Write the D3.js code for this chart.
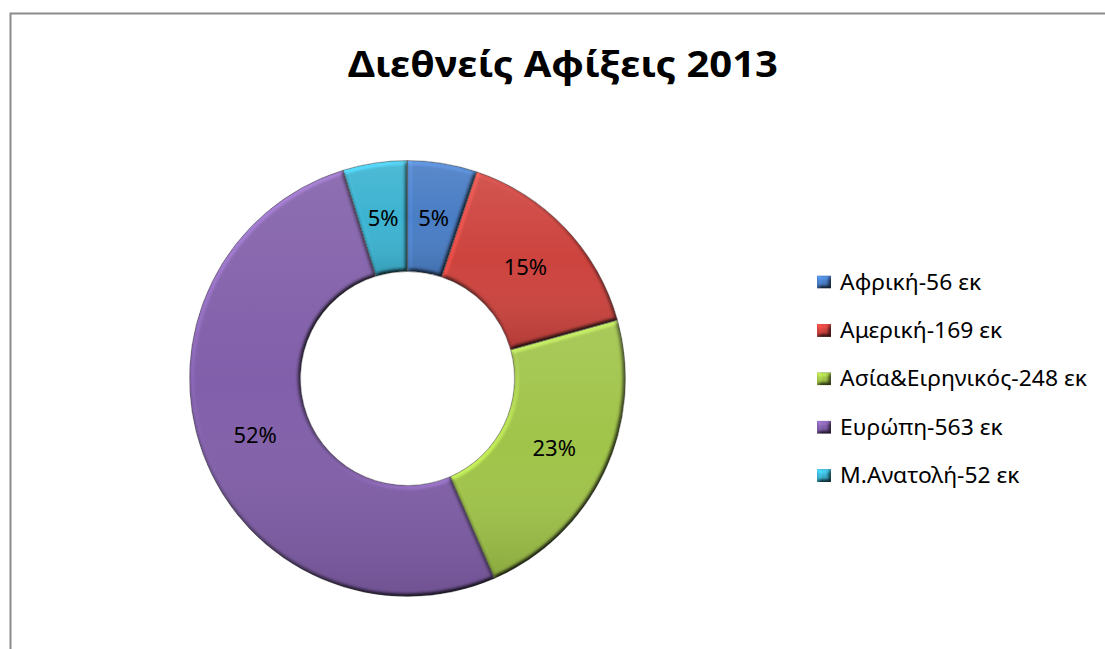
<!DOCTYPE html>
<html>
<head>
<meta charset="utf-8">
<script src="https://cdn.jsdelivr.net/npm/d3@7"></script>
<style>
  html, body { margin: 0; padding: 0; background: #fff; }
  svg { display: block; }
  text { font-family: "Noto Sans", "Open Sans", sans-serif; fill: #000; }
</style>
</head>
<body>
<svg id="chart" width="1105" height="649"></svg>
<script>
// International arrivals 2013 by region (millions, "εκ")
const regions = ["Αφρική", "Αμερική", "Ασία&Ειρηνικός", "Ευρώπη", "Μ.Ανατολή"];
const arrivals = [56, 169, 248, 563, 52];
const shareLabels = ["5%", "15%", "23%", "52%", "5%"];
const sliceColors = ["#4a7fc8", "#d0443f", "#a3c74a", "#8461ad", "#3db6d5"];
const chartTitle = "Διεθνείς Αφίξεις 2013";
const unit = "εκ";

const W = 1105, H = 649;
const svg = d3.select("#chart");

// frame around the chart area
svg.append("path")
  .attr("d", `M10.5,${H} V13.5 H${W}`)
  .attr("fill", "none")
  .attr("stroke", "#8c8c8c")
  .attr("stroke-width", 2);

// title
svg.append("text")
  .attr("x", 563)
  .attr("y", 77)
  .attr("text-anchor", "middle")
  .attr("font-size", 36)
  .attr("font-weight", "bold")
  .attr("textLength", 430)
  .attr("lengthAdjust", "spacingAndGlyphs")
  .text(chartTitle);

const defs = svg.append("defs");

// bevel shading for slices and legend keys
const bevel = defs.append("filter")
  .attr("id", "bevel")
  .attr("x", "-5%").attr("y", "-5%").attr("width", "110%").attr("height", "110%")
  .attr("color-interpolation-filters", "sRGB");
bevel.append("feGaussianBlur").attr("in", "SourceAlpha").attr("stdDeviation", 2.2).attr("result", "blur");
const diff = bevel.append("feDiffuseLighting")
  .attr("in", "blur").attr("surfaceScale", 3).attr("diffuseConstant", 1)
  .attr("lighting-color", "#fff").attr("result", "light");
diff.append("feDistantLight").attr("azimuth", 235).attr("elevation", 55);
bevel.append("feComposite")
  .attr("in", "SourceGraphic").attr("in2", "light")
  .attr("operator", "arithmetic")
  .attr("k1", 1.2).attr("k2", 0).attr("k3", 0).attr("k4", 0)
  .attr("result", "lit");
bevel.append("feComposite").attr("in", "lit").attr("in2", "SourceAlpha").attr("operator", "in");

// gentle vertical shading over the ring
const shade = defs.append("linearGradient")
  .attr("id", "ringShade")
  .attr("x1", 0).attr("y1", 0).attr("x2", 0).attr("y2", 1);
shade.append("stop").attr("offset", "0%").attr("stop-color", "#fff").attr("stop-opacity", 0.10);
shade.append("stop").attr("offset", "50%").attr("stop-color", "#fff").attr("stop-opacity", 0);
shade.append("stop").attr("offset", "100%").attr("stop-color", "#000").attr("stop-opacity", 0.14);

const cx = 407.5, cy = 378.5;
const outerR = 218, innerR = 107;

const color = d3.scaleOrdinal().domain(regions).range(sliceColors);

const pie = d3.pie().sort(null).value(d => d.value);
const rows = regions.map((r, i) => ({ region: r, value: arrivals[i], share: shareLabels[i] }));
const arcs = pie(rows);

const arc = d3.arc().innerRadius(innerR).outerRadius(outerR);

const g = svg.append("g").attr("transform", `translate(${cx},${cy})`);

g.selectAll("path.slice")
  .data(arcs)
  .join("path")
  .attr("class", "slice")
  .attr("d", arc)
  .attr("fill", d => color(d.data.region))
  .attr("filter", "url(#bevel)");

g.selectAll("path.shade")
  .data(arcs)
  .join("path")
  .attr("class", "shade")
  .attr("d", arc)
  .attr("fill", "url(#ringShade)")
  .attr("stroke", "#3d3d3d")
  .attr("stroke-opacity", 0.55)
  .attr("stroke-width", 0.8);

// percentage labels at the middle of each slice
g.selectAll("text.pct")
  .data(arcs)
  .join("text")
  .attr("class", "pct")
  .attr("transform", d => `translate(${arc.centroid(d)})`)
  .attr("text-anchor", "middle")
  .attr("dy", "0.36em")
  .attr("font-size", 22)
  .text(d => d.data.share);

// legend
const legend = svg.append("g").attr("transform", "translate(817,282)");
const item = legend.selectAll("g")
  .data(rows)
  .join("g")
  .attr("transform", (d, i) => `translate(0,${i * 48.4})`);

item.append("rect")
  .attr("x", 0).attr("y", -6.5)
  .attr("width", 14).attr("height", 13)
  .attr("fill", d => color(d.region))
  .attr("filter", "url(#bevel)");

item.append("text")
  .attr("x", 23)
  .attr("dy", "0.36em")
  .attr("font-size", 21)
  .text(d => `${d.region}-${d.value} ${unit}`)
  .each(function () {
    // slightly wider set, like the original typeface
    const w = this.getComputedTextLength();
    d3.select(this).attr("textLength", w * 1.09).attr("lengthAdjust", "spacingAndGlyphs");
  });
</script>
</body>
</html>
